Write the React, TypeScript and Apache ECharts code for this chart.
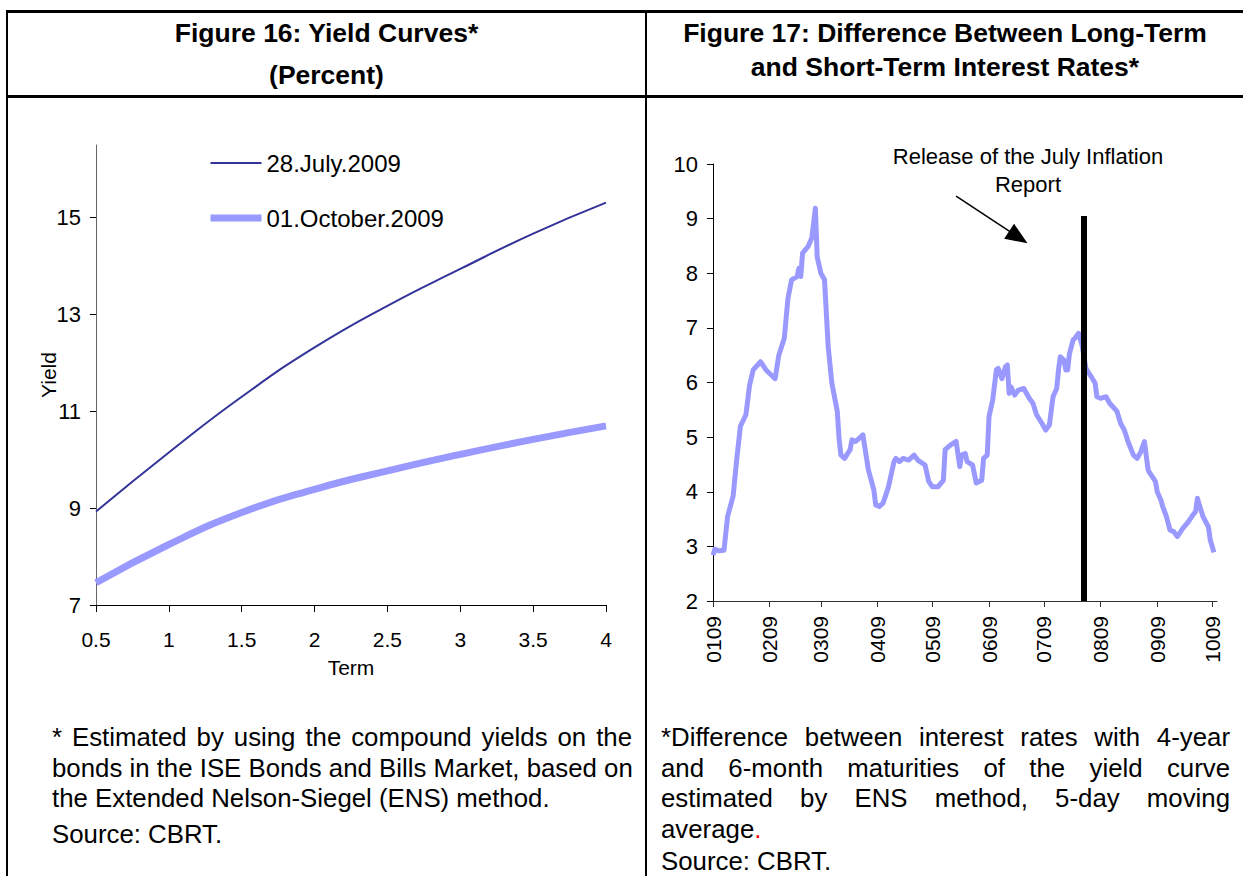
import React, { useEffect, useRef } from "react";
import * as echarts from "echarts";

// ---------- Figure 16 data ----------
const termValues = [0.5, 1, 1.5, 2, 2.5, 3, 3.5, 4];
const yieldJuly = [8.93, 10.15, 11.3, 12.32, 13.18, 13.94, 14.67, 15.31];
const yieldOctober = [7.46, 8.25, 8.91, 9.39, 9.77, 10.11, 10.42, 10.7];
const yieldTicks = [7, 9, 11, 13, 15];
const seriesNames = ["28.July.2009", "01.October.2009"];

// ---------- Figure 17 data ----------
const spreadDates = [
  "2009-01-01", "2009-01-02", "2009-01-04", "2009-01-07", "2009-01-09", "2009-01-12", "2009-01-14", "2009-01-16",
  "2009-01-19", "2009-01-21", "2009-01-23", "2009-01-27", "2009-01-30", "2009-02-03", "2009-02-04", "2009-02-06",
  "2009-02-09", "2009-02-11", "2009-02-13", "2009-02-16", "2009-02-17", "2009-02-18", "2009-02-19", "2009-02-22",
  "2009-02-24", "2009-02-25", "2009-02-26", "2009-02-27", "2009-03-01", "2009-03-03", "2009-03-04", "2009-03-05",
  "2009-03-07", "2009-03-10", "2009-03-11", "2009-03-12", "2009-03-14", "2009-03-17", "2009-03-18", "2009-03-20",
  "2009-03-24", "2009-03-27", "2009-03-30", "2009-03-31", "2009-04-02", "2009-04-04", "2009-04-07", "2009-04-10",
  "2009-04-11", "2009-04-13", "2009-04-15", "2009-04-18", "2009-04-21", "2009-04-23", "2009-04-27", "2009-04-29",
  "2009-05-01", "2009-05-04", "2009-05-07", "2009-05-08", "2009-05-11", "2009-05-14", "2009-05-16", "2009-05-17",
  "2009-05-19", "2009-05-20", "2009-05-23", "2009-05-25", "2009-05-28", "2009-05-29", "2009-05-31", "2009-06-01",
  "2009-06-03", "2009-06-05", "2009-06-06", "2009-06-08", "2009-06-10", "2009-06-11", "2009-06-12", "2009-06-13",
  "2009-06-15", "2009-06-17", "2009-06-20", "2009-06-23", "2009-06-25", "2009-06-27", "2009-06-30", "2009-07-02",
  "2009-07-04", "2009-07-06", "2009-07-08", "2009-07-09", "2009-07-10", "2009-07-12", "2009-07-13", "2009-07-14",
  "2009-07-15", "2009-07-17", "2009-07-18", "2009-07-20", "2009-07-22", "2009-07-24", "2009-07-27", "2009-07-29",
  "2009-07-30", "2009-08-01", "2009-08-04", "2009-08-06", "2009-08-10", "2009-08-12", "2009-08-14", "2009-08-16",
  "2009-08-19", "2009-08-21", "2009-08-23", "2009-08-25", "2009-08-27", "2009-08-28", "2009-08-31", "2009-09-01",
  "2009-09-03", "2009-09-04", "2009-09-06", "2009-09-08", "2009-09-10", "2009-09-12", "2009-09-15", "2009-09-18",
  "2009-09-20", "2009-09-22", "2009-09-23", "2009-09-24", "2009-09-26", "2009-09-28", "2009-09-29", "2009-09-30",
  "2009-10-02",
];
const spreadValues = [
  2.84, 2.95, 2.92, 2.93, 3.55, 3.92, 4.6, 5.2,
  5.41, 5.95, 6.23, 6.38, 6.23, 6.1, 6.07, 6.5,
  6.81, 7.54, 7.88, 7.94, 8.09, 7.94, 8.37, 8.49,
  8.64, 8.91, 9.19, 8.3, 8.0, 7.88, 7.27, 6.66,
  5.99, 5.47, 4.95, 4.67, 4.61, 4.77, 4.95, 4.92,
  5.04, 4.4, 4.03, 3.76, 3.73, 3.79, 4.09, 4.55,
  4.61, 4.55, 4.61, 4.58, 4.67, 4.58, 4.49, 4.19,
  4.09, 4.09, 4.21, 4.77, 4.86, 4.92, 4.46, 4.67,
  4.7, 4.55, 4.49, 4.16, 4.21, 4.61, 4.67, 5.38,
  5.68, 6.23, 6.26, 6.07, 6.29, 6.32, 5.8, 5.92,
  5.77, 5.86, 5.89, 5.71, 5.62, 5.41, 5.25, 5.13,
  5.22, 5.74, 5.89, 6.23, 6.47, 6.41, 6.23, 6.23,
  6.53, 6.78, 6.81, 6.9, 6.66, 6.26, 6.1, 5.99,
  5.74, 5.71, 5.74, 5.62, 5.47, 5.25, 5.13, 4.92,
  4.67, 4.61, 4.73, 4.92, 4.4, 4.34, 4.19, 4.0,
  3.85, 3.73, 3.55, 3.3, 3.27, 3.18, 3.33, 3.45,
  3.55, 3.64, 3.88, 3.76, 3.55, 3.42, 3.36, 3.12,
  2.89,
];
const monthTickDates = [
  "2009-01-01", "2009-02-01", "2009-03-01", "2009-04-01", "2009-05-01",
  "2009-06-01", "2009-07-01", "2009-08-01", "2009-09-01", "2009-10-01",
];
const monthTickLabels = ["0109", "0209", "0309", "0409", "0509", "0609", "0709", "0809", "0909", "1009"];
const spreadAxisStart = "2009-01-01";
const spreadAxisEndDays = 275.7; // axis ends a little after 1 October
const releaseDate = "2009-07-23";
const releaseLineTop = 9.05;
const arrowStart: [string, number] = ["2009-05-14", 9.41];
const arrowEnd: [string, number] = ["2009-06-17", 8.66];
const annotationText = "Release of the July Inflation\nReport";

const FONT = '"Liberation Sans", Arial, Helvetica, sans-serif';

const DAY = 86400000;
const dayNo = (s: string) =>
  Math.round((new Date(s + "T00:00:00Z").getTime() - new Date(spreadAxisStart + "T00:00:00Z").getTime()) / DAY);

export default function App() {
  const ref = useRef<HTMLDivElement>(null);

  useEffect(() => {
    if (!ref.current) return;
    const chart = echarts.init(ref.current, undefined, { renderer: "svg" });
    const monthTickDays = monthTickDates.map(dayNo);
    const clear = "rgba(0,0,0,0)";

    const option: any = {
      animation: false,
      textStyle: { fontFamily: FONT },
      grid: [
        { left: 96, top: 145, width: 510, height: 460 },
        { left: 713, top: 164, width: 504, height: 437 },
      ],
      legend: {
        data: [
          { name: seriesNames[0], lineStyle: { width: 2 } },
          { name: seriesNames[1], lineStyle: { width: 7 } },
        ],
        orient: "vertical",
        left: 207,
        top: 151,
        padding: 0,
        itemWidth: 51,
        itemHeight: 14,
        itemGap: 31,
        itemStyle: { color: clear, borderColor: clear, borderWidth: 0 },
        textStyle: { fontSize: 24, color: "#000", fontFamily: FONT },
      },
      xAxis: [
        {
          gridIndex: 0,
          type: "value",
          min: 0.5,
          max: 4,
          interval: 0.5,
          name: "Term",
          nameLocation: "middle",
          nameGap: 52,
          nameTextStyle: { fontSize: 21, color: "#000", fontFamily: FONT },
          axisLine: { show: true, lineStyle: { color: "#000", width: 1 } },
          axisTick: { show: true, length: 7, lineStyle: { color: "#000" } },
          axisLabel: { fontSize: 21, color: "#000", margin: 24, fontFamily: FONT },
          splitLine: { show: false },
        },
        {
          gridIndex: 1,
          type: "value",
          min: 0,
          max: spreadAxisEndDays,
          axisLine: { show: true, lineStyle: { color: "#333", width: 1 } },
          axisTick: { show: true, length: 6, customValues: monthTickDays, lineStyle: { color: "#333" } },
          axisLabel: {
            customValues: monthTickDays,
            rotate: 90,
            fontSize: 21,
            color: "#000",
            margin: 15,
            fontFamily: FONT,
            formatter: (v: number) => {
              const i = monthTickDays.indexOf(Math.round(v));
              return i >= 0 ? monthTickLabels[i] : "";
            },
          },
          splitLine: { show: false },
        },
      ],
      yAxis: [
        {
          gridIndex: 0,
          type: "value",
          min: 7,
          max: 16.5,
          name: "Yield",
          nameLocation: "middle",
          nameGap: 37,
          nameMoveOverlap: false,
          nameTextStyle: { fontSize: 21, color: "#000", fontFamily: FONT },
          axisLine: { show: true, lineStyle: { color: "#666", width: 1 } },
          axisTick: { show: true, length: 6, customValues: yieldTicks, lineStyle: { color: "#000" } },
          axisLabel: { customValues: yieldTicks, fontSize: 22, color: "#000", margin: 15, fontFamily: FONT },
          splitLine: { show: false },
        },
        {
          gridIndex: 1,
          type: "value",
          min: 2,
          max: 10,
          interval: 1,
          axisLine: { show: true, lineStyle: { color: "#000", width: 1 } },
          axisTick: { show: true, length: 6, lineStyle: { color: "#000" } },
          axisLabel: { fontSize: 22, color: "#000", margin: 15, fontFamily: FONT },
          splitLine: { show: false },
        },
      ],
      graphic: [
        {
          type: "text",
          x: 1028,
          y: 142,
          style: {
            text: annotationText,
            align: "center",
            verticalAlign: "top",
            font: `22px ${FONT}`,
            lineHeight: 28,
            fill: "#000",
          },
        },
      ],
      series: [
        {
          name: seriesNames[0],
          type: "line",
          xAxisIndex: 0,
          yAxisIndex: 0,
          smooth: true,
          symbol: "none",
          data: termValues.map((t, i) => [t, yieldJuly[i]]),
          lineStyle: { color: "#333399", width: 2 },
          itemStyle: { color: "#333399" },
        },
        {
          name: seriesNames[1],
          type: "line",
          xAxisIndex: 0,
          yAxisIndex: 0,
          smooth: true,
          symbol: "none",
          data: termValues.map((t, i) => [t, yieldOctober[i]]),
          lineStyle: { color: "#9999FF", width: 7 },
          itemStyle: { color: "#9999FF" },
        },
        {
          name: "Spread",
          type: "line",
          xAxisIndex: 1,
          yAxisIndex: 1,
          symbol: "none",
          data: spreadDates.map((d, i) => [dayNo(d), spreadValues[i]]),
          lineStyle: { color: "#9999FF", width: 5, join: "round" },
          itemStyle: { color: "#9999FF" },
          markLine: {
            silent: true,
            animation: false,
            label: { show: false },
            emphasis: { disabled: true },
            data: [
              [
                { coord: [dayNo(releaseDate), 2], symbol: "none", lineStyle: { color: "#000", width: 6, type: "solid" } },
                { coord: [dayNo(releaseDate), releaseLineTop], symbol: "none" },
              ],
              [
                {
                  coord: [dayNo(arrowStart[0]), arrowStart[1]],
                  symbol: "none",
                  lineStyle: { color: "#000", width: 1.5, type: "solid" },
                },
                { coord: [dayNo(arrowEnd[0]), arrowEnd[1]], symbol: "triangle", symbolSize: [18, 22] },
              ],
            ],
          },
        },
      ],
    };
    chart.setOption(option);
    return () => chart.dispose();
  }, []);

  const line = (style: React.CSSProperties) => (
    <div style={{ position: "absolute", background: "#000", ...style }} />
  );

  const headerStyle: React.CSSProperties = {
    position: "absolute",
    textAlign: "center",
    fontWeight: "bold",
    fontSize: 26.5,
    lineHeight: "32px",
    height: 32,
    whiteSpace: "nowrap",
  };
  const footLine = (text: React.ReactNode, left: number, width: number, cy: number, justify: boolean) => (
    <div
      style={{
        position: "absolute",
        left,
        width,
        top: cy - 11,
        height: 22,
        lineHeight: "22px",
        fontSize: 25.8,
        whiteSpace: "nowrap",
        textAlign: justify ? "justify" : "left",
        textAlignLast: justify ? "justify" : "left",
      }}
    >
      {text}
    </div>
  );

  return (
    <div
      style={{
        position: "fixed",
        left: 0,
        top: 0,
        width: 1243,
        height: 876,
        background: "#fff",
        overflow: "hidden",
        fontFamily: FONT,
        color: "#000",
      }}
    >
      <div ref={ref} style={{ position: "absolute", left: 0, top: 0, width: 1243, height: 876 }} />
      {line({ left: 6, top: 10, width: 1237, height: 3 })}
      {line({ left: 6, top: 95, width: 1237, height: 3 })}
      {line({ left: 6, top: 10, width: 2, height: 866 })}
      {line({ left: 645, top: 10, width: 2, height: 866 })}

      <div style={{ ...headerStyle, left: 8, width: 637, top: 33 - 16 }}>Figure 16: Yield Curves*</div>
      <div style={{ ...headerStyle, left: 8, width: 637, top: 75 - 16 }}>(Percent)</div>
      <div style={{ ...headerStyle, left: 647, width: 596, top: 33 - 16 }}>Figure 17: Difference Between Long-Term</div>
      <div style={{ ...headerStyle, left: 647, width: 596, top: 67 - 16 }}>and Short-Term Interest Rates*</div>

      {footLine("* Estimated by using the compound yields on the", 52, 580, 737, true)}
      {footLine("bonds in the ISE Bonds and Bills Market, based on", 52, 580, 768, true)}
      {footLine("the Extended Nelson-Siegel (ENS) method.", 52, 580, 798, false)}
      {footLine("Source: CBRT.", 52, 580, 834, false)}

      {footLine("*Difference between interest rates with 4-year", 661, 569, 737, true)}
      {footLine("and 6-month maturities of the yield curve", 661, 569, 768, true)}
      {footLine("estimated by ENS method, 5-day moving", 661, 569, 798, true)}
      {footLine(
        <>
          average<span style={{ color: "#ff0000" }}>.</span>
        </>,
        661,
        569,
        829,
        false
      )}
      {footLine("Source: CBRT.", 661, 569, 861, false)}
    </div>
  );
}
